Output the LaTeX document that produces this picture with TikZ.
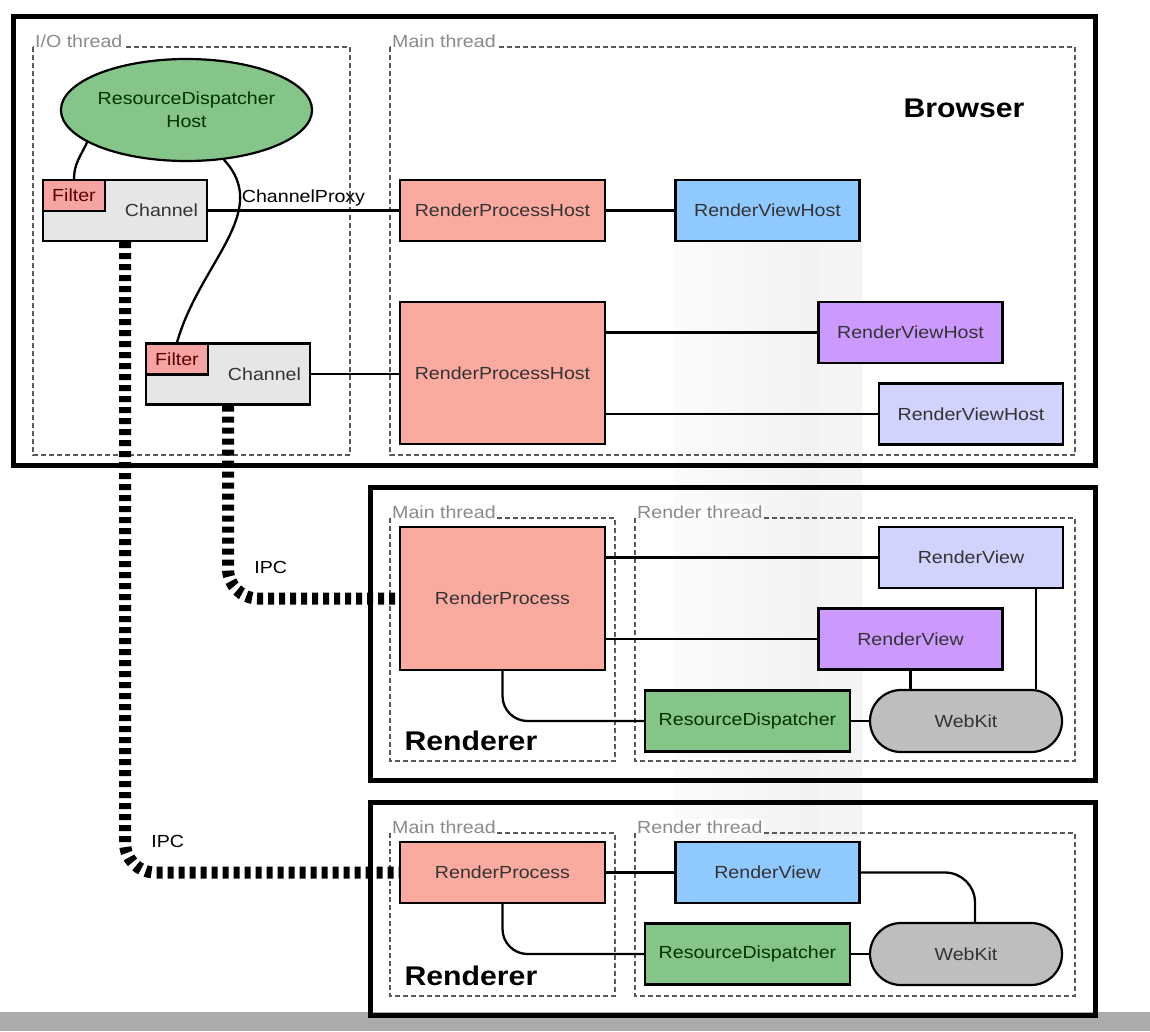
\documentclass[tikz,border=0pt]{standalone}
\usepackage{fontspec}
\setmainfont{Liberation Sans}[FakeStretch=1.12]
\usetikzlibrary{shapes.geometric}

\definecolor{rphpink}{HTML}{FBAA9F}
\definecolor{filterpink}{HTML}{F5A3A3}
\definecolor{rdgreen}{HTML}{86C589}
\definecolor{rvblue}{HTML}{8FC9FF}
\definecolor{rvpurple}{HTML}{CC99FF}
\definecolor{rvlav}{HTML}{D2D2FF}
\definecolor{wkgray}{HTML}{BEBEBE}
\definecolor{changray}{HTML}{E6E6E6}
\definecolor{thrgray}{HTML}{8A8A8A}

\begin{document}
\begin{tikzpicture}[
        x=1pt, y=-1pt,
        font=\fontsize{17.5}{20}\selectfont,
        box/.style={draw, line width=2.2pt, text=black!80, inner sep=0pt, minimum width=205pt, minimum height=61pt},
        chanbox/.style={box, fill=changray, minimum width=164pt, text width=146pt, align=right, inner xsep=9pt},
        filterbox/.style={box, fill=filterpink, text=black!65!red, minimum width=62pt, minimum height=31pt, anchor=north west},
        viewbox/.style={box, minimum width=184pt},
        kitbox/.style={box, fill=wkgray, rounded corners=31pt, minimum width=192pt, minimum height=62pt},
        proc/.style={draw, line width=5pt},
        thread/.style={draw=black!65, line width=1.3pt, dash pattern=on 5pt off 3pt},
        thrlbl/.style={text=thrgray, fill=white, inner sep=1pt, anchor=base west},
        proclbl/.style={font=\fontsize{27}{30}\selectfont\bfseries},
        link/.style={line width=2.3pt},
        ipc/.style={line width=12pt, dash pattern=on 6pt off 5pt, rounded corners=30pt}
        ]
        \useasboundingbox (0,0) rectangle (1150,1031);

        % --- faint shading left on the slide ---
        \fill[left color=gray!3, right color=gray!13] (675,241) rectangle (862,842);
        \fill[gray!9] (818,241) rectangle (862,842);
        \fill[black!33] (0,1012) rectangle (1150,1031);

        % --- Browser process ---
        \draw[proc] (13,16) rectangle (1095,465);
        \draw[thread] (33,47) rectangle (350,455);
        \draw[thread] (390,47) rectangle (1075,455);
        \node[thrlbl] (iothr) at (34,47) {I/O thread};
        \node[thrlbl] (bmainthr) at (391,47) {Main thread};
        \node[proclbl] (browser) at (964,108) {Browser};

        % I/O thread
        \node[ellipse, draw, line width=2.2pt, fill=rdgreen, text=black!80!green, inner sep=0pt,
              minimum width=225pt, minimum height=102pt, align=center,
              font=\fontsize{17.5}{23}\selectfont] (rdh) at (186.5,110) {ResourceDispatcher\\Host};
        \node[chanbox] (chan1) at (125,210.5) {Channel};
        \node[filterbox] (filter1) at (chan1.north west) {Filter};
        \node[chanbox] (chan2) at (228,374) {Channel};
        \node[filterbox] (filter2) at (chan2.north west) {Filter};

        % Main thread
        \node[box, fill=rphpink] (rph1) at (502.5,210.5) {RenderProcessHost};
        \node[viewbox, fill=rvblue] (rvh1) at (767.5,210.5) {RenderViewHost};
        \node[box, fill=rphpink, minimum height=142pt] (rph2) at (502.5,373) {RenderProcessHost};
        \node[viewbox, fill=rvpurple] (rvh2) at (910.5,332.5) {RenderViewHost};
        \node[viewbox, fill=rvlav] (rvh3) at (971,414) {RenderViewHost};

        % --- Renderer 1 ---
        \draw[proc] (370,487) rectangle (1095,780);
        \draw[thread] (390,518) rectangle (615,761);
        \draw[thread] (635,518) rectangle (1075,761);
        \node[thrlbl] (r1mainthr) at (391,518) {Main thread};
        \node[thrlbl] (r1rendthr) at (636,518) {Render thread};
        \node[proclbl, anchor=base west] (rend1) at (401,750) {Renderer};

        \node[box, fill=rphpink, minimum height=143pt] (rp1) at (502.5,598.5) {RenderProcess};
        \node[viewbox, fill=rvlav] (rv1a) at (971,557.5) {RenderView};
        \node[viewbox, fill=rvpurple] (rv1b) at (910.5,639) {RenderView};
        \node[box, fill=rdgreen, text=black!80!green] (rd1) at (747.5,721) {ResourceDispatcher};
        \node[kitbox] (wk1) at (966,721) {WebKit};

        % --- Renderer 2 ---
        \draw[proc] (370,802) rectangle (1095,1015);
        \draw[thread] (390,833) rectangle (615,996);
        \draw[thread] (635,833) rectangle (1075,996);
        \node[thrlbl] (r2mainthr) at (391,833) {Main thread};
        \node[thrlbl] (r2rendthr) at (636,833) {Render thread};
        \node[proclbl, anchor=base west] (rend2) at (401,985) {Renderer};

        \node[box, fill=rphpink] (rp2) at (502.5,872.5) {RenderProcess};
        \node[viewbox, fill=rvblue] (rv2) at (767.5,872.5) {RenderView};
        \node[box, fill=rdgreen, text=black!80!green] (rd2) at (747.5,954) {ResourceDispatcher};
        \node[kitbox] (wk2) at (966,954) {WebKit};

        % Links in the browser
        \draw[link] (rdh.198) to[out=245, in=90] (filter1.north);
        \draw[link] (rdh.-53) .. controls (272,212) and (200,262) .. (filter2.north);
        \draw[link] (chan1.east) -- node[above, inner sep=3pt]{ChannelProxy} (rph1.west);
        \draw[link] (rph1) -- (rvh1);
        \draw[link] (chan2.east) -- (chan2.east -| rph2.west);
        \draw[link] (rvh2.west -| rph2.east) -- (rvh2.west);
        \draw[link] (rvh3.west -| rph2.east) -- (rvh3.west);

        % Links in renderer 1
        \draw[link] (rv1a.west -| rp1.east) -- (rv1a.west);
        \draw[link] (rv1b.west -| rp1.east) -- (rv1b.west);
        \draw[link, rounded corners=25pt] (rp1.south) |- (rd1.west);
        \draw[link] (rd1) -- (wk1);
        \draw[link] (rv1b.south) -- (rv1b.south |- wk1.north);
        \draw[link] ([xshift=-28pt]rv1a.south east) -- ([xshift=-28pt]rv1a.south east |- wk1.north);

        % Links in renderer 2
        \draw[link] (rp2) -- (rv2);
        \draw[link, rounded corners=25pt] (rp2.south) |- (rd2.west);
        \draw[link] (rd2) -- (wk2);
        \draw[link, rounded corners=30pt] (rv2.east) -| ([xshift=9pt]wk2.north);

        % IPC channels
        \draw[ipc] (chan2.south) |- node[pos=0.5, anchor=south west, xshift=17pt, yshift=16pt]{IPC} (rp1.west);
        \draw[ipc] (chan1.south) |- node[pos=0.5, anchor=south west, xshift=17pt, yshift=16pt]{IPC} (rp2.west);

\end{tikzpicture}
\end{document}
